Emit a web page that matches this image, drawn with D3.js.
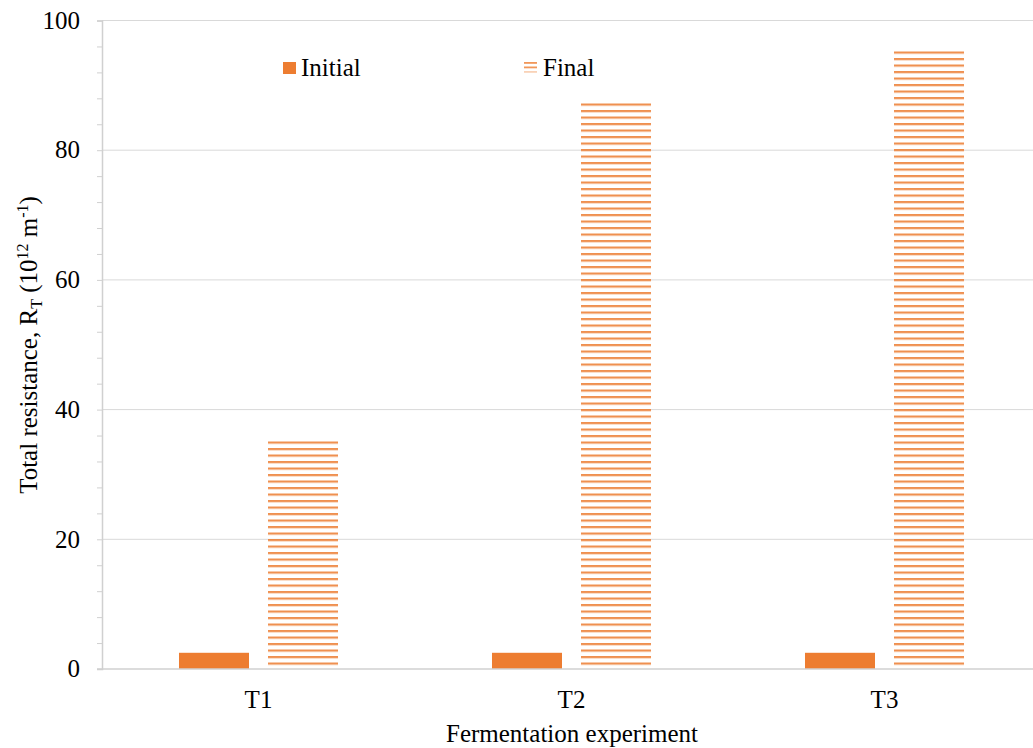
<!DOCTYPE html>
<html><head><meta charset="utf-8">
<script src="https://cdn.jsdelivr.net/npm/d3@7"></script>
<style>body{margin:0;background:#fff;} svg{display:block;}</style>
</head><body>
<svg id="c" width="1033" height="748"></svg>
<script>
const categories = ["T1", "T2", "T3"];
const seriesNames = ["Initial", "Final"];
const initialValues = [2.5, 2.5, 2.5];
const finalValues = [35.6, 87.5, 95.5];
const yTicks = [0, 20, 40, 60, 80, 100];

(function(){
const svg = d3.select("#c");
const font = "'Liberation Serif','Times New Roman',serif";
const fs = 25;
const orange = "#ED7D31";
const pLeft = 102, pRight = 1041, pTop = 20.5, pBottom = 669;

const defs = svg.append("defs");
const pat = defs.append("pattern").attr("id","hatch").attr("patternUnits","userSpaceOnUse")
  .attr("width", 8).attr("height", 6.5).attr("y", pBottom);
pat.append("rect").attr("x",0).attr("y",0).attr("width",8).attr("height",2.2).attr("fill",orange).attr("opacity",0.85);

const x0 = d3.scaleBand().domain(categories).range([pLeft, pRight]).paddingInner(0).paddingOuter(0);
const x1 = d3.scaleBand().domain(seriesNames).range([0, x0.bandwidth()]).paddingInner(0.2135).paddingOuter(0.865);
const y = d3.scaleLinear().domain([0, 100]).range([pBottom, pTop]);

// gridlines
svg.append("g").selectAll("line").data(yTicks.filter(d => d > 0)).join("line")
  .attr("x1", pLeft).attr("x2", 1033).attr("y1", d => y(d)).attr("y2", d => y(d))
  .attr("stroke", "#d9d9d9").attr("stroke-width", 1);

// y axis
const yAxis = d3.axisLeft(y).tickValues(d3.range(0, 101, 4)).tickSize(5).tickFormat("");
const ga = svg.append("g").attr("transform", `translate(${pLeft},0)`).call(yAxis);
ga.select(".domain").attr("stroke", "#d0d0d0").attr("stroke-width", 1.5);
ga.selectAll(".tick line").attr("stroke", "#d0d0d0");
svg.append("g").selectAll("text").data(yTicks).join("text")
  .attr("x", 80).attr("y", d => y(d)).attr("dy", "0.33em").attr("text-anchor", "end")
  .attr("font-family", font).attr("font-size", fs).attr("fill", "#000").text(d => d);

// bars
const rows = categories.map((c, i) => ({c, vals: [initialValues[i], finalValues[i]]}));
const g = svg.append("g").selectAll("g").data(rows).join("g")
  .attr("transform", d => `translate(${x0(d.c)},0)`);
g.selectAll("rect").data(d => d.vals.map((v, j) => ({s: seriesNames[j], v}))).join("rect")
  .attr("x", d => x1(d.s)).attr("width", x1.bandwidth())
  .attr("y", d => y(d.v)).attr("height", d => y(0) - y(d.v))
  .attr("fill", d => d.s === "Initial" ? orange : "url(#hatch)");

// x axis line
svg.append("line").attr("x1", pLeft - 5).attr("x2", 1033).attr("y1", pBottom).attr("y2", pBottom)
  .attr("stroke", "#d0d0d0").attr("stroke-width", 1.5);

// x labels
svg.append("g").selectAll("text").data(categories).join("text")
  .attr("x", d => x0(d) + x0.bandwidth()/2).attr("y", 708)
  .attr("text-anchor", "middle").attr("font-family", font).attr("font-size", fs).text(d => d);

svg.append("text").attr("x", 572).attr("y", 742).attr("text-anchor", "middle")
  .attr("font-family", font).attr("font-size", fs).text("Fermentation experiment");

// y title
const yt = svg.append("text").attr("transform", "translate(37,345) rotate(-90)")
  .attr("text-anchor", "middle").attr("font-family", font).attr("font-size", fs);
yt.append("tspan").text("Total resistance, R");
yt.append("tspan").attr("font-size", 16).attr("dy", 5).text("T");
yt.append("tspan").attr("dy", -5).text(" (10");
yt.append("tspan").attr("font-size", 16).attr("dy", -9).text("12");
yt.append("tspan").attr("dy", 9).text(" m");
yt.append("tspan").attr("font-size", 16).attr("dy", -9).text("-1");
yt.append("tspan").attr("dy", 9).text(")");

// legend
const lg = svg.append("g");
lg.append("rect").attr("x", 283).attr("y", 62).attr("width", 13).attr("height", 12).attr("fill", orange);
lg.append("text").attr("x", 301).attr("y", 76).attr("font-family", font).attr("font-size", fs).text(seriesNames[0]);
[0,1,2].forEach(k => lg.append("rect").attr("x", 524).attr("y", 62 + k*4.5).attr("width", 13).attr("height", 1.8)
  .attr("fill", orange).attr("opacity", [0.8, 0.8, 0.35][k]));
lg.append("text").attr("x", 543).attr("y", 76).attr("font-family", font).attr("font-size", fs).text(seriesNames[1]);
})();
</script>
</body></html>
